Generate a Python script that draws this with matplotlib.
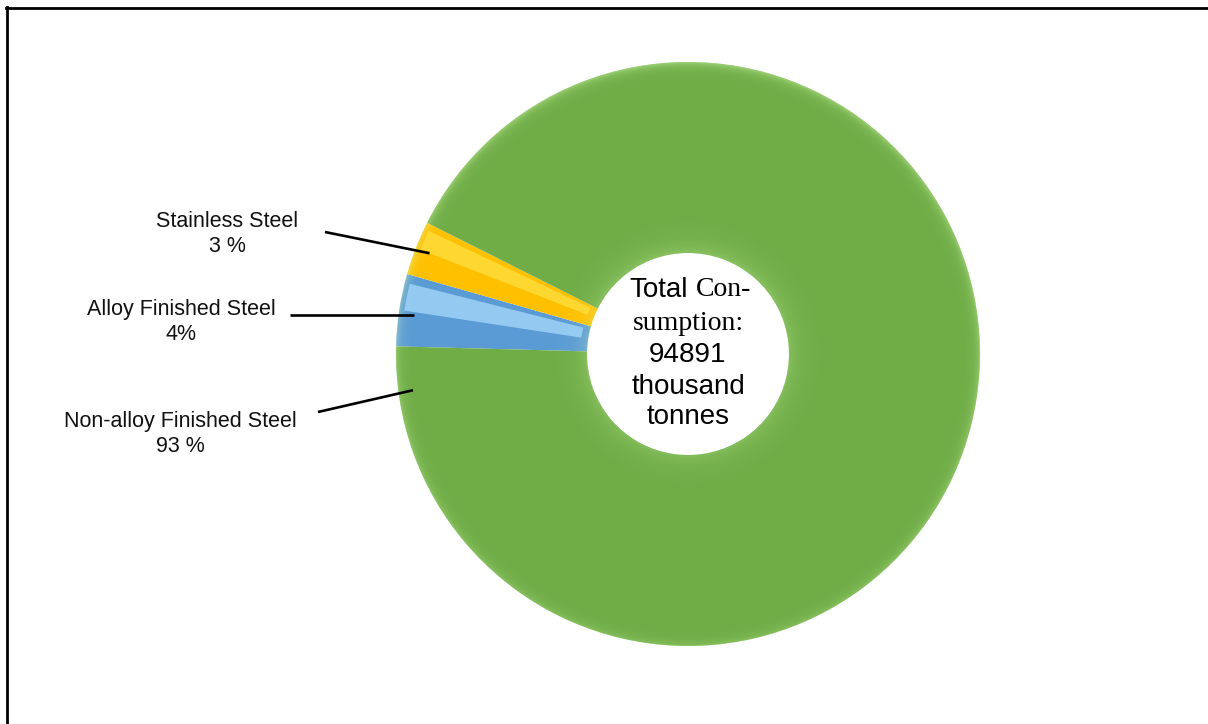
import numpy as np
import matplotlib
matplotlib.use("Agg")
from matplotlib import pyplot as plt
from matplotlib.patches import Wedge
from matplotlib.lines import Line2D

# steel consumption shares (%)
categories = ["Alloy Finished Steel", "Stainless Steel", "Non-alloy Finished Steel"]
shares = [4, 3, 93]
share_labels = ["4%", "3 %", "93 %"]
colors = ["#5b9bd5", "#ffc000", "#70ad47"]
total_kt = 94891

W, H = 1208, 724
fig = plt.figure(figsize=(W / 100, H / 100), dpi=100)
ax = fig.add_axes([0, 0, 1, 1])

cx, cy = 688, 370
R = 292
hole = 101
ring = R - hole

wedges, _ = ax.pie(shares, colors=colors, startangle=178.5, counterclock=False,
                   radius=R, center=(cx, cy), frame=True,
                   wedgeprops=dict(width=ring, linewidth=0))
ax.set_xlim(0, W)
ax.set_ylim(0, H)
ax.set_aspect("equal")
ax.axis("off")

# soft bevel: light rim on the outside, faint glow round the hole
n = 600
xs = np.linspace(cx - R, cx + R, n)
ys = np.linspace(cy - R, cy + R, n)
X, Y = np.meshgrid(xs, ys)
r = np.hypot(X - cx, Y - cy) / R
ri = hole / R
a = 0.40 * np.exp(-np.clip(1 - r, 0, None) / 0.015) + 0.30 * np.exp(-np.clip(r - ri, 0, None) / 0.035)
a *= 0.75 + 0.25 * (Y - cy) / R
img = np.zeros((n, n, 4))
img[..., 0] = 0.85
img[..., 1] = 1.0
img[..., 2] = 0.7
img[..., 3] = np.clip(a, 0, 0.5)
ann = Wedge((cx, cy), R, 0, 360, width=ring, transform=ax.transData)
ann.set_visible(False)
ax.add_patch(ann)
im = ax.imshow(img, extent=(cx - R, cx + R, cy - R, cy + R), origin="lower", zorder=3)
im.set_clip_path(ann)
ax.set_xlim(0, W)
ax.set_ylim(0, H)

# lighter upper face on the two small slices
for w, c in zip(wedges[:2], ["#9fd3f7", "#ffdc3a"]):
    t1, t2 = w.theta1, w.theta2
    hl = Wedge((cx, cy), R - 5, t1 + (t2 - t1) * 0.12, t1 + (t2 - t1) * 0.5, width=ring - 12,
               facecolor=c, edgecolor="none", alpha=0.85, zorder=4)
    ax.add_patch(hl)

# labels with leader lines
lab_font = dict(family=["Liberation Sans", "DejaVu Sans"], fontsize=15.5, color="#111111")
label_pos = [(181, 402), (227, 490), (180, 290)]
line_start = [(290, 409), (325, 492), (318, 312)]
line_angle = [(w.theta1 + w.theta2) / 2 for w in wedges[:2]] + [187.5]

for cat, lab, (tx, ty), (sx, sy), ang in zip(categories, share_labels, label_pos, line_start, line_angle):
    ax.text(tx, ty, cat + "\n" + lab, ha="center", va="center",
            linespacing=1.3, zorder=6, **lab_font)
    ex = cx + 0.95 * R * np.cos(np.radians(ang))
    ey = cy + 0.95 * R * np.sin(np.radians(ang))
    if cat.startswith("Alloy"):
        ey = sy
    ax.plot([sx, ex], [sy, ey], color="black", lw=1.9, zorder=6,
            solid_capstyle="butt")

# centre text
sans = ["Liberation Sans", "DejaVu Sans"]
serif = ["Liberation Serif", "DejaVu Serif"]
fs = 20
ax.text(cx, cy + 64, "Total", ha="right", va="center", family=sans, fontsize=fs, zorder=6)
ax.text(cx + 8, cy + 64, "Con-", ha="left", va="center", family=serif, fontsize=fs, zorder=6)
ax.text(cx, cy + 31, "sumption:", ha="center", va="center", family=serif, fontsize=fs, zorder=6)
ax.text(cx, cy - 1, str(total_kt), ha="center", va="center", family=sans, fontsize=fs, zorder=6)
ax.text(cx, cy - 33, "thousand", ha="center", va="center", family=sans, fontsize=fs, zorder=6)
ax.text(cx, cy - 63, "tonnes", ha="center", va="center", family=sans, fontsize=fs, zorder=6)

# frame edges (top and left)
fig.add_artist(Line2D([6 / W, 1], [1 - 7.5 / H, 1 - 7.5 / H], color="black", lw=2))
fig.add_artist(Line2D([6.5 / W, 6.5 / W], [0, 1 - 7 / H], color="black", lw=2))

fig.savefig("out.png", dpi=100)
